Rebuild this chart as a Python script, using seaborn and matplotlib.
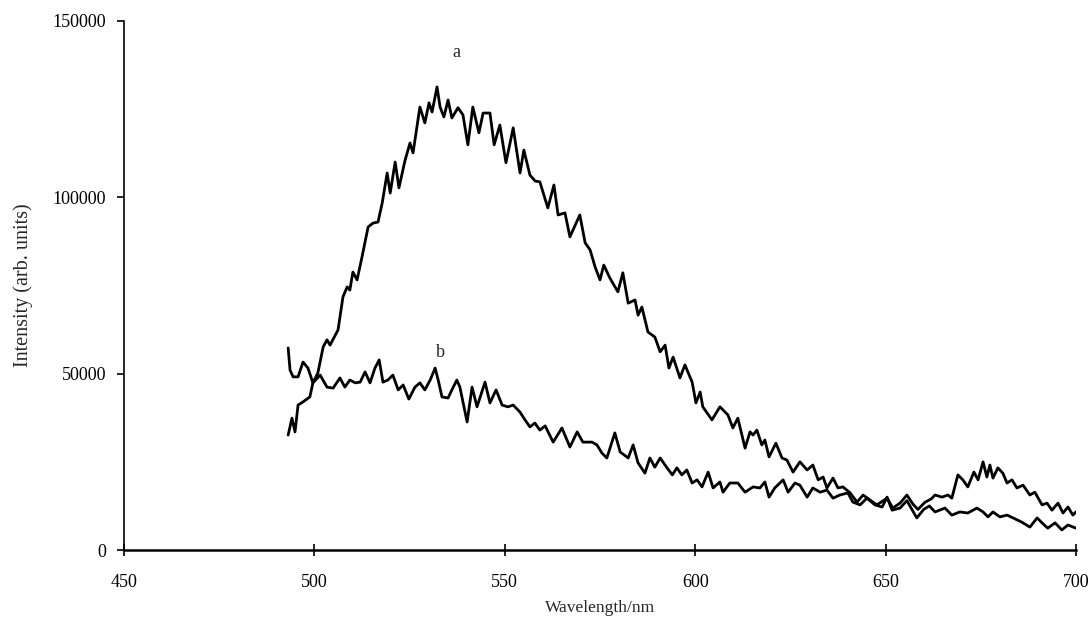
import matplotlib
matplotlib.use("Agg")
import matplotlib.pyplot as plt
import seaborn as sns
import pandas as pd

# ---- data ----
wl_a = [493.1, 494.1, 494.9, 495.7, 497.0, 498.8, 499.6, 500.9, 502.3, 503.3, 504.1, 506.2,
        507.5, 508.6, 509.3, 510.1, 511.2, 512.5, 514.1, 515.4, 516.7, 517.8, 519.1, 519.9,
        521.2, 522.2, 523.8, 525.1, 525.9, 527.7, 529.0, 530.1, 530.9, 532.2, 533.0, 534.0,
        535.1, 536.1, 537.7, 539.0, 540.3, 541.6, 543.2, 544.3, 546.1, 547.2, 548.7, 550.3,
        552.2, 554.0, 555.0, 556.6, 558.0, 559.2, 561.3, 562.9, 564.0, 565.8, 567.1, 569.7,
        571.1, 572.4, 573.7, 575.0, 576.0, 577.6, 579.7, 581.0, 582.4, 584.2, 585.0, 586.0,
        587.6, 589.4, 590.8, 592.1, 593.1, 594.2, 596.0, 597.3, 599.2, 600.2, 601.3, 602.0,
        604.4, 606.5, 608.6, 609.9, 611.2, 613.1, 614.4, 615.2, 616.2, 617.5, 618.3, 619.4,
        621.2, 622.8, 624.1, 625.7, 627.5, 629.4, 630.9, 632.3, 633.6, 634.6, 636.2, 637.5,
        638.8, 640.7, 642.5, 644.1, 645.9, 647.7, 650.4, 651.9, 653.8, 655.6, 657.2, 658.5,
        660.3, 662.0, 663.0, 664.8, 666.4, 667.4, 669.0, 670.3, 671.6, 673.2, 674.3, 675.6,
        676.6, 677.4, 678.2, 679.5, 680.8, 681.9, 683.2, 684.5, 686.1, 687.9, 689.2, 691.1,
        692.4, 693.7, 695.3, 696.6, 697.9, 699.2, 700.0]
int_a = [32600, 37400, 33500, 41100, 42000, 43400, 47400, 50200, 57600, 59600, 58100, 62400,
         71800, 74600, 73700, 78800, 76600, 83100, 91600, 92700, 93000, 98400, 106900, 101200,
         110000, 102700, 110500, 115400, 112600, 125600, 121100, 126800, 124200, 131300, 125600, 122800,
         127600, 122500, 125400, 123400, 114900, 125600, 118300, 123900, 123900, 114900, 120500, 109800,
         119700, 106900, 113400, 106300, 104600, 104400, 97000, 103500, 95000, 95600, 88800, 95000,
         87100, 85100, 80300, 76600, 80800, 77100, 73200, 78600, 70000, 70900, 66600, 68900,
         61800, 60400, 56200, 58100, 51600, 54700, 48800, 52500, 47600, 41700, 44800, 40600,
         36900, 40600, 38300, 34600, 37400, 28900, 33500, 32600, 34000, 29800, 31200, 26400,
         30300, 26100, 25500, 22100, 25000, 22700, 24100, 19900, 20700, 17600, 20400, 17600,
         17900, 16200, 13600, 15600, 14200, 12800, 14700, 11900, 13300, 15600, 13000, 11500,
         13500, 14500, 15600, 15000, 15600, 14700, 21300, 19900, 17900, 22100, 19900, 25000,
         20700, 24100, 20400, 23300, 21800, 19000, 19900, 17600, 18400, 15600, 16400, 12800,
         13300, 11300, 13300, 10500, 12200, 9900, 10800]

wl_b = [493.1, 493.6, 494.4, 495.7, 497.0, 498.3, 499.6, 501.5, 503.3, 504.9, 506.7, 508.0,
        509.3, 510.7, 512.0, 513.3, 514.6, 515.9, 517.0, 518.0, 519.3, 520.6, 522.0, 523.3,
        524.8, 526.4, 527.7, 529.0, 530.4, 531.7, 532.5, 533.5, 535.1, 536.1, 537.4, 538.2,
        540.1, 541.4, 542.7, 544.8, 546.1, 547.7, 549.3, 550.8, 552.2, 554.0, 555.3, 556.6,
        557.9, 559.2, 560.6, 562.7, 565.0, 567.1, 569.0, 570.5, 572.9, 574.2, 575.5, 576.8,
        578.9, 580.3, 582.4, 583.7, 585.0, 586.8, 588.1, 589.4, 590.8, 592.6, 594.0, 595.2,
        596.5, 597.8, 599.2, 600.5, 601.8, 603.4, 604.7, 606.5, 607.3, 609.1, 611.2, 613.1,
        615.2, 617.0, 618.3, 619.4, 620.9, 623.1, 624.4, 626.2, 627.5, 629.4, 630.9, 632.8,
        634.6, 636.2, 638.0, 640.1, 641.4, 643.3, 645.1, 647.2, 649.1, 650.4, 651.7, 653.8,
        655.6, 658.2, 660.0, 661.5, 663.0, 665.6, 667.4, 669.5, 671.6, 674.0, 675.6, 676.9,
        678.2, 680.0, 681.9, 683.5, 685.8, 687.9, 689.8, 691.1, 692.6, 694.5, 696.3, 697.9,
        700.0]
int_b = [57300, 51000, 49100, 49100, 53300, 51600, 47400, 49600, 46200, 45900, 48800, 46200,
         48200, 47400, 47600, 50500, 47400, 51600, 53900, 47600, 48200, 49600, 45400, 46800,
         42800, 46200, 47400, 45400, 48200, 51600, 48200, 43400, 43100, 45400, 48200, 46200,
         36300, 46200, 40600, 47600, 41700, 45400, 41100, 40600, 41100, 39100, 36900, 34900,
         36000, 34000, 35200, 30600, 34600, 29200, 33500, 30600, 30600, 29800, 27500, 26100,
         33200, 27800, 26100, 29800, 24700, 21800, 26100, 23500, 26100, 23300, 21300, 23300,
         21300, 22700, 19000, 19900, 17900, 22100, 17600, 19300, 16400, 19000, 19000, 16400,
         17900, 17600, 19300, 15000, 17600, 19900, 16400, 19000, 18400, 15000, 17600, 16400,
         17000, 14700, 15600, 16200, 13600, 12800, 14700, 12800, 12200, 15000, 11300, 11900,
         14000, 9100, 11500, 12500, 10800, 11900, 9900, 10800, 10500, 11900, 10800, 9400,
         10800, 9400, 9900, 9100, 7900, 6500, 9100, 7700, 6200, 7700, 5700, 7100,
         6200]

x_ticks = [450, 500, 550, 600, 650, 700]
y_ticks = [0, 50000, 100000, 150000]
curve_labels = ["a", "b"]
label_pos_x = [537.4, 533.2]
label_pos_y = [141000, 55900]

# ---- figure ----
sns.set_style("ticks")
plt.rcParams['font.family'] = ['Liberation Serif', 'DejaVu Serif']

df = pd.concat([
    pd.DataFrame({"Wavelength": wl_a, "Intensity": int_a, "curve": "a"}),
    pd.DataFrame({"Wavelength": wl_b, "Intensity": int_b, "curve": "b"}),
])

fig = plt.figure(figsize=(10.92, 6.32), dpi=100)
ax = fig.add_axes([0.1136, 0.1297, 0.8717, 0.8371])

sns.lineplot(data=df, x="Wavelength", y="Intensity", units="curve", estimator=None,
             color="black", linewidth=2.0, sort=False, ax=ax, legend=False,
             solid_joinstyle="round", solid_capstyle="round")

ax.set_xlim(450, 700)
ax.set_ylim(0, 150000)
ax.set_xticks(x_ticks)
ax.set_yticks(y_ticks)
ax.set_xticklabels([str(v) for v in x_ticks], fontsize=13)
ax.set_yticklabels([str(v) for v in y_ticks], fontsize=13)
ax.tick_params(axis="x", direction="inout", length=8, width=1.2, pad=13, colors="black")
ax.tick_params(axis="y", direction="out", length=5, width=1.2, pad=8, colors="black")

for s in ["top", "right"]:
    ax.spines[s].set_visible(False)
ax.spines["bottom"].set_linewidth(1.8)
ax.spines["left"].set_linewidth(1.2)
ax.spines["bottom"].set_color("black")
ax.spines["left"].set_color("black")

ax.set_xlabel("Wavelength/nm", fontsize=12.5, labelpad=7)
ax.set_ylabel("Intensity (arb. units)", fontsize=14.5, labelpad=14)

for lab, lx, ly in zip(curve_labels, label_pos_x, label_pos_y):
    ax.text(lx, ly, lab, fontsize=13, ha="center", va="center")

fig.savefig("out.png", dpi=100, facecolor="white")
